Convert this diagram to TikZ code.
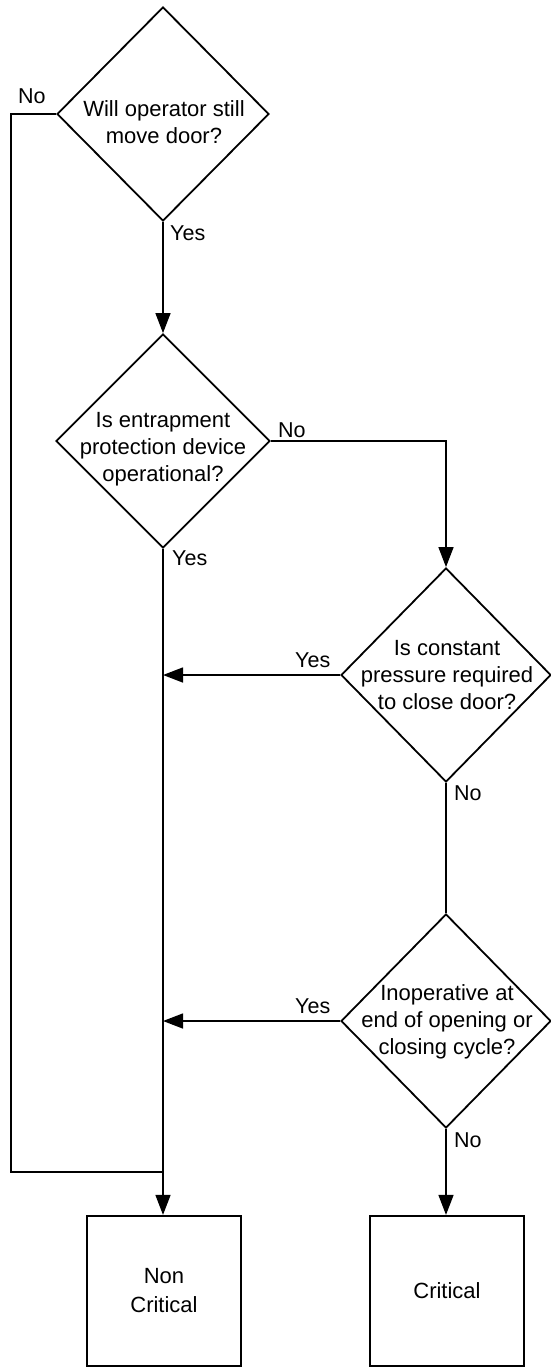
\documentclass[tikz,border=0pt]{standalone}
\usepackage{fontspec}
\setmainfont{Liberation Sans}
\usetikzlibrary{shapes.geometric,arrows.meta}
\tikzset{
  decision/.style={draw, diamond, line width=1.8pt, inner sep=0pt, minimum width=#1, minimum height=214pt, aspect=1},
  qtext/.style={align=center, font=\fontsize{22}{27}\selectfont, inner sep=0pt},
  endbox/.style={draw, line width=2.2pt, minimum width=154pt, minimum height=150pt, inner sep=0pt, align=center, font=\fontsize{22}{29}\selectfont},
  lbl/.style={anchor=base west, inner sep=0pt, font=\fontsize{21.5}{26}\selectfont},
  conn/.style={line width=1.4pt},
  arr/.style={conn, -{Triangle[length=20pt,width=15pt]}}
}
\begin{document}
\begin{tikzpicture}[x=1pt,y=-1pt]
\useasboundingbox (0,0) rectangle (551,1368);
% decisions
\node[decision=212pt] (d1) at (163,114) {};
\node[decision=214pt] (d2) at (163,441) {};
\node[decision=210pt] (d3) at (446,675) {};
\node[decision=210pt] (d4) at (446,1021) {};
\node[qtext] (t1) at (164,122) {Will operator still\\move door?};
\node[qtext] (t2) at (163,449) {Is entrapment\\protection device\\operational?};
\node[qtext] (t3) at (447,675) {Is constant\\pressure required\\to close door?};
\node[qtext] (t4) at (447,1022) {Inoperative at\\end of opening or\\closing cycle?};
% end boxes
\node[endbox] (nc) at (164,1291) {Non\\Critical};
\node[endbox] (cr) at (447,1291) {Critical};
% helper coordinates
\coordinate (l1) at (11,114);
\coordinate (l2) at (11,1172);
\coordinate (j0) at (163,1172);
\coordinate (r2) at (446,441);
\coordinate (j3) at (163,675);
\coordinate (j4) at (163,1021);
% connectors
\draw[arr] (d1.south) -- (d2.north);
\draw[arr] (d2.east) -- (r2) -- (d3.north);
\draw[conn] (d3.south) -- (d4.north);
\draw[arr] (d4.south) -- (d4.south |- cr.north);
\draw[arr] (d2.south) -- (d2.south |- nc.north);
\draw[conn] (d1.west) -- (l1) -- (l2) -- (j0);
\draw[arr] (d3.west) -- (j3);
\draw[arr] (d4.west) -- (j4);
% labels
\node[lbl] (n1) at (18,103) {No};
\node[lbl] (y1) at (170,240) {Yes};
\node[lbl] (n2) at (278,437) {No};
\node[lbl] (y2) at (172,565) {Yes};
\node[lbl] (y3) at (295,667) {Yes};
\node[lbl] (n3) at (454,800) {No};
\node[lbl] (y4) at (295,1013) {Yes};
\node[lbl] (n4) at (454,1147) {No};
\end{tikzpicture}
\end{document}
